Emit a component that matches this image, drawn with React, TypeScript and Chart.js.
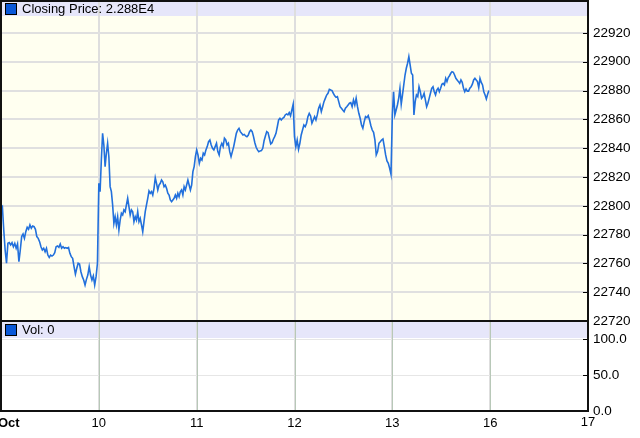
import React, { useEffect, useRef } from "react";
import { Chart, registerables } from "chart.js";

Chart.register(...registerables);

// ---- data ----
const dayLabels = ["Oct", "10", "11", "12", "13", "16", "17"];

const priceOct09 = [22798.2, 22799.4, 22783.2, 22769.3, 22760.1, 22773.9, 22774.4, 22772.8, 22774.4, 22771.6, 22773.9, 22770.5, 22773.5, 22761.2, 22769.3, 22778.6, 22780.4, 22777.4, 22782.0, 22785.1, 22783.7, 22786.7, 22784.4, 22786.0, 22785.5, 22783.7, 22778.6, 22777.4, 22775.1, 22771.6, 22769.3, 22770.5, 22768.1, 22770.5, 22765.8, 22764.2, 22765.8, 22765.1, 22765.8, 22767.4, 22771.6, 22772.1, 22771.2, 22773.5, 22770.5, 22771.6, 22770.5, 22771.0, 22770.5, 22771.0, 22767.0, 22764.7, 22763.5, 22757.7, 22752.6, 22756.6, 22760.1, 22759.6, 22754.2, 22750.8, 22748.5, 22745.0, 22748.9, 22751.9, 22757.7, 22751.9, 22748.5, 22751.3, 22745.0, 22750.8, 22760.1];

const priceOct10 = [22815.6, 22809.8, 22831.8, 22850.3, 22842.2, 22827.2, 22836.5, 22843.4, 22834.1, 22813.3, 22809.8, 22800.6, 22787.8, 22792.4, 22786.7, 22792.4, 22783.2, 22790.1, 22794.8, 22793.6, 22797.1, 22795.9, 22800.6, 22805.2, 22799.4, 22793.6, 22797.1, 22795.9, 22789.0, 22792.4, 22790.1, 22795.9, 22789.0, 22791.3, 22786.7, 22782.0, 22789.0, 22795.9, 22800.6, 22805.2, 22810.3, 22808.7, 22809.8, 22807.5, 22812.1, 22819.5, 22815.6, 22811.0, 22814.4, 22815.6, 22817.9, 22816.7, 22813.3, 22814.4, 22812.1, 22808.7, 22807.5, 22804.0, 22802.8, 22804.0, 22805.2, 22807.5, 22805.2, 22808.7, 22806.3, 22809.8, 22811.0, 22807.5, 22813.3, 22811.0, 22814.4, 22817.9, 22814.4, 22811.0, 22814.4, 22823.7, 22827.2, 22834.1];

const priceOct11 = [22838.8, 22835.3, 22829.5, 22833.0, 22831.8, 22836.5, 22835.3, 22838.8, 22841.1, 22844.5, 22845.7, 22842.2, 22839.9, 22838.8, 22841.1, 22843.4, 22837.6, 22835.3, 22841.1, 22843.4, 22841.1, 22846.9, 22845.7, 22842.2, 22843.4, 22837.6, 22834.1, 22837.6, 22841.1, 22845.7, 22850.3, 22852.6, 22853.8, 22851.5, 22850.3, 22849.2, 22849.6, 22848.5, 22848.0, 22849.0, 22851.5, 22852.6, 22851.5, 22848.0, 22843.8, 22840.6, 22838.8, 22837.6, 22838.1, 22838.3, 22839.9, 22845.2, 22848.5, 22851.5, 22850.8, 22846.9, 22842.9, 22843.8, 22846.2, 22848.0, 22850.3, 22854.9, 22859.6, 22860.8, 22859.6, 22860.8, 22861.4, 22863.1, 22863.8, 22863.1, 22864.7, 22862.4, 22866.5, 22870.5];

const priceOct12 = [22848.0, 22841.1, 22845.7, 22839.2, 22843.4, 22849.2, 22852.6, 22856.1, 22854.9, 22857.3, 22861.9, 22864.2, 22862.4, 22857.3, 22859.6, 22861.9, 22859.6, 22863.1, 22867.7, 22870.0, 22865.4, 22868.8, 22872.3, 22874.6, 22876.9, 22878.1, 22880.9, 22880.4, 22880.0, 22878.1, 22876.3, 22875.3, 22875.8, 22872.3, 22868.8, 22867.7, 22866.5, 22865.4, 22867.7, 22868.8, 22870.0, 22871.2, 22871.6, 22868.8, 22873.5, 22870.0, 22874.6, 22868.8, 22864.2, 22860.8, 22856.1, 22853.8, 22858.4, 22861.9, 22861.2, 22862.6, 22859.6, 22855.6, 22852.6, 22851.0, 22845.7, 22835.3, 22837.6, 22843.4, 22844.5, 22845.7, 22846.4, 22841.1, 22835.3, 22831.1, 22829.5, 22826.0, 22821.9];

const priceOct13 = [22863.1, 22879.2, 22863.1, 22866.5, 22870.0, 22874.6, 22881.6, 22870.5, 22877.0, 22883.9, 22890.8, 22895.5, 22899.0, 22903.5, 22897.8, 22892.0, 22890.8, 22863.1, 22872.3, 22877.0, 22875.8, 22882.7, 22879.2, 22874.6, 22875.8, 22878.1, 22873.5, 22868.8, 22871.2, 22874.6, 22878.1, 22881.6, 22882.7, 22879.2, 22877.0, 22880.4, 22881.6, 22879.2, 22881.6, 22884.4, 22885.0, 22883.9, 22888.5, 22886.2, 22889.0, 22890.3, 22892.0, 22893.1, 22892.7, 22890.8, 22888.5, 22887.4, 22886.2, 22885.0, 22887.4, 22885.7, 22881.6, 22879.2, 22881.1, 22879.6, 22879.6, 22881.6, 22882.7, 22884.4, 22887.4, 22888.5, 22887.4, 22886.2, 22882.1, 22888.5, 22885.7, 22883.9, 22879.2, 22877.0, 22874.2, 22877.4, 22880.0];

const sessions = [priceOct09, priceOct10, priceOct11, priceOct12, priceOct13];
const volumeValues = [0, 0, 0, 0, 0];

const priceTickValues = [22720, 22740, 22760, 22780, 22800, 22820, 22840, 22860, 22880, 22900, 22920];
const volumeTickValues = [0, 50, 100];

const FONT = "'Liberation Sans', Arial, sans-serif";

export default function App() {
  const ref = useRef<HTMLCanvasElement | null>(null);

  useEffect(() => {
    document.body.style.margin = "0";
    const canvas = ref.current;
    if (!canvas) return;

    const pricePoints: { x: number; y: number }[] = [];
    sessions.forEach((arr, d) => {
      arr.forEach((v, i) => pricePoints.push({ x: d + i / arr.length, y: v }));
    });
    const volPoints = volumeValues.map((v, i) => ({ x: i + 0.5, y: v }));
    const lastClose = priceOct13[priceOct13.length - 1];
    const closeText = lastClose.toExponential(3).toUpperCase().replace("+", "");

    const panelPlugin = {
      id: "panels",
      beforeDraw(chart: any) {
        const { ctx, chartArea: a, scales } = chart;
        const yp = scales.y;
        const yv = scales.yv;
        const w = a.right - a.left;
        ctx.save();
        ctx.fillStyle = "#ffffff";
        ctx.fillRect(0, 0, chart.width, chart.height);
        ctx.fillStyle = "#fffff0";
        ctx.fillRect(a.left, yp.top, w, yp.bottom - yp.top);
        ctx.fillStyle = "#e6e6fa";
        ctx.fillRect(a.left, yp.top, w, 15);
        ctx.fillRect(a.left, yv.top, w, 17);
        ctx.restore();
      },
      beforeDatasetsDraw(chart: any) {
        const { ctx, scales } = chart;
        const xs = scales.x;
        const yv = scales.yv;
        ctx.save();
        ctx.strokeStyle = "#b8c8b8";
        ctx.lineWidth = 1;
        for (let i = 1; i < dayLabels.length - 1; i++) {
          const px = Math.round(xs.getPixelForValue(i)) + 0.5;
          ctx.beginPath();
          ctx.moveTo(px, yv.top);
          ctx.lineTo(px, yv.bottom);
          ctx.stroke();
        }
        ctx.restore();
      },
      afterDraw(chart: any) {
        const { ctx, chartArea: a, scales } = chart;
        const xs = scales.x;
        const yp = scales.y;
        const yv = scales.yv;
        ctx.save();
        // inward tick marks
        ctx.strokeStyle = "#000";
        ctx.lineWidth = 1;
        [yp, yv].forEach((s: any) => {
          s.ticks.forEach((t: any) => {
            const py = Math.round(s.getPixelForValue(t.value)) + 0.5;
            ctx.beginPath();
            ctx.moveTo(a.right - 5, py);
            ctx.lineTo(a.right, py);
            ctx.stroke();
          });
        });
        // borders
        ctx.strokeStyle = "#111";
        ctx.lineWidth = 2;
        ctx.strokeRect(a.left, a.top, a.right - a.left, a.bottom - a.top);
        ctx.beginPath();
        ctx.moveTo(a.left, yp.bottom);
        ctx.lineTo(a.right, yp.bottom);
        ctx.stroke();
        // legend headers
        const drawHeader = (top: number, text: string) => {
          ctx.fillStyle = "#0a58d8";
          ctx.fillRect(a.left + 5, top + 3, 10, 10);
          ctx.strokeStyle = "#000";
          ctx.lineWidth = 1;
          ctx.strokeRect(a.left + 4.5, top + 2.5, 11, 11);
          ctx.fillStyle = "#000";
          ctx.font = "13px " + FONT;
          ctx.textAlign = "left";
          ctx.textBaseline = "middle";
          ctx.fillText(text, a.left + 21, top + 8.5);
        };
        drawHeader(yp.top, "Closing Price: " + closeText);
        drawHeader(yv.top + 1, "Vol: " + volumeValues[volumeValues.length - 1]);
        // x labels
        ctx.fillStyle = "#000";
        ctx.textBaseline = "middle";
        dayLabels.forEach((lab, i) => {
          const px = xs.getPixelForValue(i);
          if (i === 0) {
            ctx.font = "bold 13px " + FONT;
            ctx.textAlign = "left";
            ctx.fillText(lab, px - 3, a.bottom + 12);
          } else {
            ctx.font = "13px " + FONT;
            ctx.textAlign = "center";
            ctx.fillText(lab, px, a.bottom + (i === dayLabels.length - 1 ? 11 : 12));
          }
        });
        ctx.restore();
      },
    };

    const fitY = (s: any) => {
      s.width = 52;
      s.paddingTop = 0;
      s.paddingBottom = 0;
    };

    const chart = new Chart(canvas, {
      type: "line",
      data: {
        datasets: [
          {
            type: "line",
            label: "Closing Price",
            data: pricePoints,
            xAxisID: "x",
            yAxisID: "y",
            borderColor: "#2270dc",
            borderWidth: 1.6,
            pointRadius: 0,
            tension: 0,
            fill: false,
          },
          {
            type: "bar",
            label: "Vol",
            data: volPoints,
            xAxisID: "x",
            yAxisID: "yv",
            backgroundColor: "#0a58d8",
            borderWidth: 0,
          },
        ],
      },
      options: {
        animation: false,
        responsive: false,
        devicePixelRatio: 1,
        events: [],
        layout: { padding: { top: 1, left: 1, right: 0, bottom: 0 } },
        plugins: { legend: { display: false }, tooltip: { enabled: false } },
        scales: {
          x: {
            type: "linear",
            min: 0,
            max: dayLabels.length - 1,
            offset: false,
            position: "bottom",
            grid: { color: "#dedede", lineWidth: 2, offset: false, drawTicks: false },
            border: { display: false },
            ticks: { display: false, stepSize: 1, autoSkip: false },
            afterFit: (s: any) => {
              s.height = 27;
              s.paddingLeft = 0;
              s.paddingRight = 0;
            },
          },
          y: {
            type: "linear",
            position: "right",
            stack: "panels",
            stackWeight: 320,
            min: 22720,
            max: 22942.2,
            afterBuildTicks: (s: any) => {
              s.ticks = priceTickValues.map((v) => ({ value: v }));
            },
            grid: { color: "#e0e0e0", lineWidth: 2, drawTicks: false },
            border: { display: false },
            ticks: {
              autoSkip: false,
              padding: 5,
              color: "#000",
              font: { family: FONT, size: 13.5 },
              callback: (v: any) => String(v),
            },
            afterFit: fitY,
          },
          yv: {
            type: "linear",
            position: "right",
            stack: "panels",
            stackWeight: 90,
            min: 0,
            max: 125,
            afterBuildTicks: (s: any) => {
              s.ticks = volumeTickValues.map((v) => ({ value: v }));
            },
            grid: { color: "#e6e6e6", lineWidth: 1, drawTicks: false },
            border: { display: false },
            ticks: {
              autoSkip: false,
              padding: 5,
              color: "#000",
              font: { family: FONT, size: 13.5 },
              callback: (v: any) => Number(v).toFixed(1),
            },
            afterFit: fitY,
          },
        },
      } as any,
      plugins: [panelPlugin],
    });

    return () => chart.destroy();
  }, []);

  return (
    <div style={{ width: 640, height: 438 }}>
      <canvas ref={ref} width={640} height={438} style={{ display: "block" }} />
    </div>
  );
}
